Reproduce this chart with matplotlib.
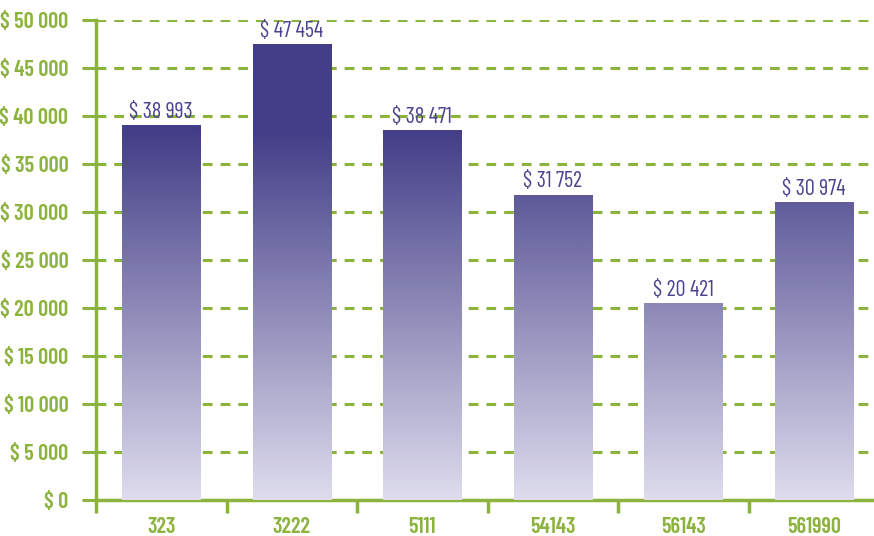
import matplotlib
matplotlib.use("Agg")
import matplotlib.pyplot as plt
import numpy as np
from matplotlib.colors import LinearSegmentedColormap, Normalize

categories = ["323", "3222", "5111", "54143", "56143", "561990"]
values = [38993, 47454, 38471, 31752, 20421, 30974]
yticks = list(range(0, 50001, 5000))

green = "#8db33f"
purple_text = "#4a4590"
plt.rcParams['font.family'] = ['Barlow Condensed', 'DejaVu Sans']


def money(v):
    s = f"{v:,}".replace(",", "\u2009")
    return "\\$\u2009" + s


fig = plt.figure(figsize=(8.74, 5.36), dpi=100)
ax = fig.add_axes([96 / 874, 36 / 536, 783 / 874, 480 / 536])

x = np.arange(len(categories))
bars = ax.bar(x, values, width=0.6, color="none", zorder=3)

# vertical gradient tied to the y scale (light at 0, dark from ~38 000 up)
cmap = LinearSegmentedColormap.from_list("grad", ["#dedced", "#433e87"])
norm = Normalize(vmin=0, vmax=38500)
for b in bars:
    x0, w, h = b.get_x(), b.get_width(), b.get_height()
    grad = np.linspace(0, h, 300).reshape(-1, 1)
    ax.imshow(grad, extent=(x0, x0 + w, 0, h), origin="lower", cmap=cmap,
              norm=norm, aspect="auto", zorder=3, interpolation="bilinear")

for xi, v in zip(x, values):
    ax.annotate(money(v), (xi, v), xytext=(0, 2), textcoords="offset points",
                ha="center", va="bottom", color=purple_text, fontsize=16)

ax.set_xlim(-0.5, len(categories) - 0.5)
ax.set_ylim(0, 50000)
ax.set_yticks(yticks)
ax.set_yticklabels([money(t) for t in yticks], fontweight="semibold", fontsize=16,
                   color=green)
ax.yaxis.grid(True, linestyle=(0, (3.2, 2.6)), color=green, linewidth=2.2, zorder=1)
ax.set_axisbelow(True)

ax.set_xticks(x)
ax.set_xticklabels(categories, fontweight="semibold", fontsize=16, color=green)
ax.tick_params(axis="x", length=0, pad=12)
ax.set_xticks(np.arange(-0.5, len(categories)), minor=True)
ax.tick_params(axis="x", which="minor", length=9, width=2.5, color=green,
               direction="out")
ax.tick_params(axis="y", length=10, width=2.2, color=green, pad=10)

for side in ["top", "right"]:
    ax.spines[side].set_visible(False)
for side in ["left", "bottom"]:
    ax.spines[side].set_color(green)
    ax.spines[side].set_linewidth(2.5)

fig.savefig("out.png", dpi=100)
